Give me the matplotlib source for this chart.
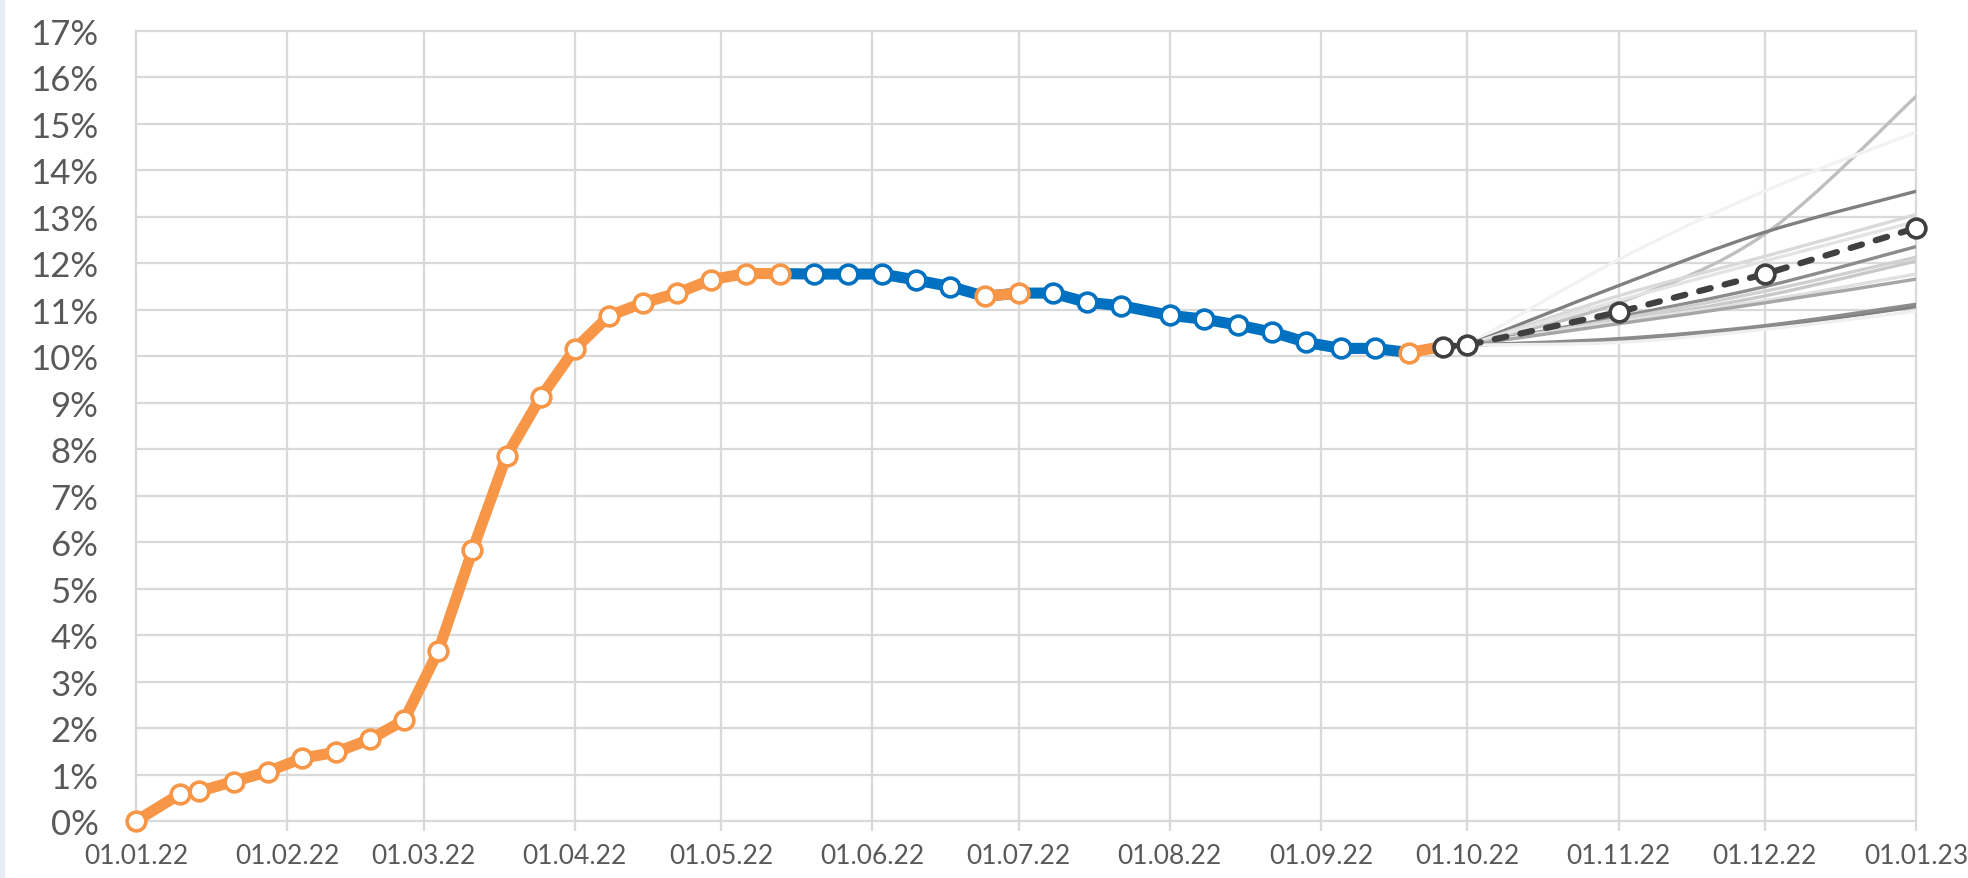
"""
Weekly rate 2022 with forecast fan to 01.01.23.
Observed weekly values (orange / blue segments), dashed central forecast,
and thin grey scenario paths drawn as smoothed curves.
"""

import datetime as dt

import matplotlib
matplotlib.use("Agg")
import matplotlib.pyplot as plt
import matplotlib.dates as mdates
from matplotlib.path import Path
from matplotlib.patches import PathPatch, Rectangle
from matplotlib.ticker import PercentFormatter

OUTPUT_PNG = "out.png"

# observed weekly values, % (source: "o" = orange series, "b" = blue series)
obs_dates = [
    "2022-01-01", "2022-01-10", "2022-01-14", "2022-01-21", "2022-01-28",
    "2022-02-04", "2022-02-11", "2022-02-18", "2022-02-25", "2022-03-04",
    "2022-03-11", "2022-03-18", "2022-03-25", "2022-04-01", "2022-04-08",
    "2022-04-15", "2022-04-22", "2022-04-29", "2022-05-06", "2022-05-13",
    "2022-05-20", "2022-05-27", "2022-06-03", "2022-06-10", "2022-06-17",
    "2022-06-24", "2022-07-01", "2022-07-08", "2022-07-15", "2022-07-22",
    "2022-08-01", "2022-08-08", "2022-08-15", "2022-08-22", "2022-08-29",
    "2022-09-05", "2022-09-12", "2022-09-19",
]
obs_values = [
    0.00, 0.58, 0.64, 0.85, 1.06,
    1.35, 1.48, 1.76, 2.17, 3.66,
    5.83, 7.86, 9.12, 10.16, 10.87,
    11.15, 11.36, 11.65, 11.78, 11.78,
    11.77, 11.77, 11.77, 11.64, 11.50,
    11.29, 11.36, 11.36, 11.16, 11.09,
    10.88, 10.80, 10.67, 10.52, 10.30,
    10.17, 10.17, 10.08,
]
obs_source = (["o"] * 20 + ["b"] * 5 + ["o"] * 2 + ["b"] * 10 + ["o"])

# central forecast (dashed)
fc_dates = ["2022-09-26", "2022-10-01", "2022-11-01", "2022-12-01", "2023-01-01"]
fc_values = [10.21, 10.24, 10.95, 11.77, 12.76]

# scenario paths (thin grey), all starting at 01.10.22
sc_dates = ["2022-10-01", "2022-11-01", "2022-12-01", "2023-01-01"]
sc_values = [
    [10.24, 11.15, 12.63, 15.59],
    [10.24, 12.08, 13.56, 14.82],
    [10.24, 11.52, 12.67, 13.55],
    [10.24, 11.30, 12.15, 13.05],
    [10.24, 11.20, 12.05, 12.90],
    [10.24, 10.85, 11.50, 12.36],
    [10.24, 10.80, 11.40, 12.13],
    [10.24, 10.75, 11.30, 12.05],
    [10.24, 10.75, 11.20, 11.77],
    [10.24, 10.70, 11.15, 11.66],
    [10.24, 10.35, 10.62, 11.07],
    [10.24, 10.38, 10.66, 11.12],
    [10.24, 10.30, 10.58, 10.97],
]
sc_colors = [
    "#BFBFBF", "#F2F2F2", "#808080", "#D9D9D9", "#E3E3E3", "#8C8C8C",
    "#D0D0D0", "#C8C8C8", "#E0E0E0", "#A6A6A6", "#808080", "#8C8C8C",
    "#EFEFEF",
]

ORANGE = "#F79646"
BLUE = "#0070C0"
DARK = "#404040"
GRID = "#D9D9D9"
TEXT = "#595959"


def to_dates(strings):
    return [dt.datetime.strptime(s, "%Y-%m-%d") for s in strings]


def smooth_path(xs, ys):
    """Excel-style smoothed line: cubic bezier through the points."""
    pts = list(zip(xs, ys))
    verts = [pts[0]]
    codes = [Path.MOVETO]
    n = len(pts)
    for i in range(n - 1):
        p0 = pts[max(i - 1, 0)]
        p1 = pts[i]
        p2 = pts[i + 1]
        p3 = pts[min(i + 2, n - 1)]
        c1 = (p1[0] + (p2[0] - p0[0]) / 6, p1[1] + (p2[1] - p0[1]) / 6)
        c2 = (p2[0] - (p3[0] - p1[0]) / 6, p2[1] - (p3[1] - p1[1]) / 6)
        verts += [c1, c2, p2]
        codes += [Path.CURVE4] * 3
    return Path(verts, codes)


def main():
    plt.rcParams["font.family"] = ["Lato", "DejaVu Sans"]

    fig = plt.figure(figsize=(19.68, 8.79), dpi=100)
    fig.patches.append(Rectangle((0, 0), 4 / 1968, 1, transform=fig.transFigure,
                                 color="#E8ECF4", zorder=0))
    ax = fig.add_axes([136 / 1968, 57 / 879, 1780 / 1968, 790 / 879])

    od = to_dates(obs_dates)
    fd = to_dates(fc_dates)
    sd = mdates.date2num(to_dates(sc_dates))

    lw_main = 8.0
    ms = 13.5
    mew = 2.6

    # blue series: from 13.05 to the end of the observed data
    first_blue = obs_source.index("b") - 1
    ax.plot(od[first_blue:], obs_values[first_blue:], color=BLUE, lw=lw_main,
            solid_joinstyle="round", zorder=3, clip_on=False)

    # orange series: gaps where blue only, last point joins the forecast start
    oy = []
    for i, v in enumerate(obs_values):
        keep = obs_source[i] == "o"
        oy.append(v if keep else float("nan"))
    ax.plot(od + [fd[0]], oy + [fc_values[0]], color=ORANGE, lw=lw_main,
            solid_joinstyle="round", zorder=4, clip_on=False)

    # scenario fan
    for vals, col in zip(sc_values, sc_colors):
        patch = PathPatch(smooth_path(sd, vals), facecolor="none", edgecolor=col,
                          lw=2.4, zorder=5, capstyle="round")
        ax.add_patch(patch)

    # central forecast
    ax.plot(fd, fc_values, color=DARK, lw=4.5, ls=(0, (1.9, 2.3)),
            dash_capstyle="round", zorder=6, clip_on=False)

    # markers
    ox = [d for d, s in zip(od, obs_source) if s == "o"]
    ov = [v for v, s in zip(obs_values, obs_source) if s == "o"]
    bx = [d for d, s in zip(od, obs_source) if s == "b"]
    bv = [v for v, s in zip(obs_values, obs_source) if s == "b"]
    ax.plot(bx, bv, ls="none", marker="o", ms=ms, mfc="white", mec=BLUE,
            mew=mew, zorder=7, clip_on=False)
    ax.plot(ox, ov, ls="none", marker="o", ms=ms, mfc="white", mec=ORANGE,
            mew=mew, zorder=7, clip_on=False)
    ax.plot(fd, fc_values, ls="none", marker="o", ms=ms, mfc="white", mec=DARK,
            mew=mew, zorder=8, clip_on=False)

    ax.set_xlim(dt.datetime(2022, 1, 1), dt.datetime(2023, 1, 1))
    ax.set_ylim(0, 17)
    ax.xaxis.set_major_locator(mdates.MonthLocator())
    ax.xaxis.set_major_formatter(mdates.DateFormatter("%d.%m.%y"))
    ax.yaxis.set_major_locator(plt.MultipleLocator(1))
    ax.yaxis.set_major_formatter(PercentFormatter(100, decimals=0))

    ax.grid(True, color=GRID, lw=1.6)
    ax.set_axisbelow(True)
    for gl in ax.get_xgridlines() + ax.get_ygridlines():
        gl.set_clip_on(False)
    for sp in ax.spines.values():
        sp.set_visible(False)

    ax.tick_params(axis="x", length=7.2, width=1.6, color=GRID, labelcolor=TEXT,
                   labelsize=19, pad=9)
    ax.tick_params(axis="y", length=0, labelcolor=TEXT, labelsize=25, pad=27)

    fig.savefig(OUTPUT_PNG, dpi=100)


if __name__ == "__main__":
    main()
